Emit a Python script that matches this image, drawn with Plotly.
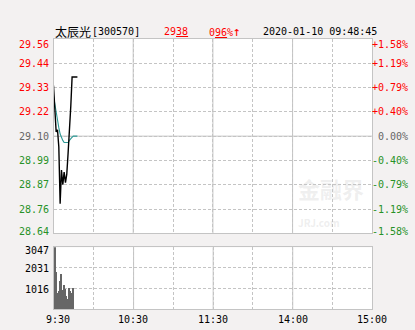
import plotly.graph_objects as go

# ---------------- data ----------------
stock_name = "太辰光"
stock_code = "[300570]"
last_price_txt = "29<u>38</u>"
change_txt = "0<u>96</u>%<span style='font-size:13px'>↑</span>"
timestamp = "2020-01-10 09:48:45"

times = ["09:30", "09:31", "09:32", "09:33", "09:34", "09:35", "09:36", "09:37",
         "09:38", "09:39", "09:40", "09:41", "09:42", "09:43", "09:44", "09:45",
         "09:46", "09:47", "09:48"]
price = [29.34, 29.22, 29.12, 29.13, 29.05, 28.78, 28.94, 28.87, 28.93, 28.88,
         28.92, 29.02, 29.12, 29.24, 29.38, 29.38, 29.38, 29.38, 29.38]
avg_price = [29.29, 29.25, 29.20, 29.17, 29.14, 29.11, 29.09, 29.08, 29.07, 29.07,
             29.07, 29.07, 29.08, 29.09, 29.095, 29.10, 29.10, 29.10, 29.10]
volume = [3047, 1830, 800, 880, 1380, 1710, 920, 1160, 960, 630,
          500, 1050, 880, 800, 1050, 0, 0, 0, 0]

prev_close = 29.10
max_pct = 0.0158
price_tick_labels = ["29.56", "29.44", "29.33", "29.22", "29.10", "28.99", "28.87", "28.76", "28.64"]
pct_tick_labels = ["+1.58%", "+1.19%", "+0.79%", "+0.40%", "0.00%", "-0.40%", "-0.79%", "-1.19%", "-1.58%"]
vol_max = 3047
vol_tick_labels = ["3047", "2031", "1016"]
x_tick_minutes = [0, 60, 120, 180, 240]
x_tick_labels = ["9:30", "10:30", "11:30", "14:00", "15:00"]

# ---------------- helpers ----------------
def to_minute(t):
    h, m = map(int, t.split(":"))
    v = h * 60 + m
    if v <= 11 * 60 + 30:
        return v - (9 * 60 + 30)
    return v - 13 * 60 + 120

xm = [to_minute(t) for t in times]

W, H = 415, 330
X0, X1 = 53.5 / W, 372.3 / W
MAIN = [1 - 233.3 / H, 1 - 39 / H]
VOL = [1 - 309.3 / H, 1 - 247.3 / H]

ymin = prev_close * (1 - max_pct)
ymax = prev_close * (1 + max_pct)
n = len(price_tick_labels)
levels = [ymax - i * (ymax - ymin) / (n - 1) for i in range(n)]

RED = "#ff0000"
GREEN = "#279127"
GRAY = "#666666"
GRID = "#c4c4c4"
MONO = "DejaVu Sans Mono, Liberation Mono, monospace"
CJK = "Noto Sans CJK SC"
FS = 10

fig = go.Figure()
fig.add_trace(go.Bar(x=xm, y=volume, marker=dict(color="#666666", line=dict(width=0)),
                     width=0.75, xaxis="x2", yaxis="y2", hoverinfo="skip"))
fig.add_trace(go.Scatter(x=xm, y=avg_price, mode="lines",
                         line=dict(color="#2e9a96", width=1.1), xaxis="x", yaxis="y",
                         hoverinfo="skip", cliponaxis=False))
fig.add_trace(go.Scatter(x=xm, y=price, mode="lines",
                         line=dict(color="#000000", width=1.4), xaxis="x", yaxis="y",
                         hoverinfo="skip", cliponaxis=False))

axis_common = dict(showline=True, mirror=True, linecolor=GRID, linewidth=1,
                   ticks="", showticklabels=False, zeroline=False,
                   gridcolor=GRID, griddash="3px,2px", gridwidth=1)

grid_minutes = list(range(0, 241, 30))
fig.update_layout(
    width=W, height=H, margin=dict(l=0, r=0, t=0, b=0),
    paper_bgcolor="#f3f1f1", plot_bgcolor="#ffffff", showlegend=False,
    bargap=0,
    xaxis=dict(domain=[X0, X1], range=[0, 240], tickvals=grid_minutes, anchor="y",
               **axis_common),
    yaxis=dict(domain=MAIN, range=[ymin, ymax], tickvals=levels[1:-1], anchor="x",
               **axis_common),
    xaxis2=dict(domain=[X0, X1], range=[-0.4, 240], tickvals=grid_minutes, anchor="y2",
                **axis_common),
    yaxis2=dict(domain=VOL, range=[0, vol_max], tickvals=[vol_max / 3, 2 * vol_max / 3],
                anchor="x2", **axis_common),
)

shapes = []
shapes.append(dict(type="line", xref="paper", yref="y", x0=X0, x1=X1,
                   y0=prev_close, y1=prev_close, line=dict(color=GRID, width=1),
                   layer="below"))
for m in x_tick_minutes[1:-1]:
    for xr, yr in (("x", "y"), ("x2", "y2")):
        y0, y1 = (ymin, ymax) if yr == "y" else (0, vol_max)
        shapes.append(dict(type="line", xref=xr, yref=yr, x0=m, x1=m, y0=y0, y1=y1,
                           line=dict(color=GRID, width=1), layer="below"))
fig.update_layout(shapes=shapes)

ann = []
for i, (lv, pl, cl) in enumerate(zip(levels, price_tick_labels, pct_tick_labels)):
    if i < (n - 1) // 2:
        col = RED
    elif i == (n - 1) // 2:
        col = GRAY
    else:
        col = GREEN
    ys = -6 if i == 0 else (2 if i == n - 1 else 0)
    ann.append(dict(x=50.5 / W, xref="paper", y=lv, yref="y", text=pl, showarrow=False,
                    xanchor="right", yanchor="middle", yshift=ys,
                    font=dict(family=MONO, size=FS, color=col)))
    ann.append(dict(x=409.5 / W, xref="paper", y=lv, yref="y", text=cl, showarrow=False,
                    xanchor="right", yanchor="middle", yshift=ys,
                    font=dict(family=MONO, size=FS, color=col)))
for i, vl in enumerate(vol_tick_labels):
    v = vol_max * (len(vol_tick_labels) - i) / len(vol_tick_labels)
    ys = -3 if i == 0 else -1
    ann.append(dict(x=51 / W, xref="paper", y=v, yref="y2", text=vl, showarrow=False,
                    xanchor="right", yanchor="middle", yshift=ys,
                    font=dict(family=MONO, size=FS, color="#000000")))
for m, tl in zip(x_tick_minutes, x_tick_labels):
    ann.append(dict(x=m, xref="x", y=1 - 319.5 / H, yref="paper", text=tl,
                    showarrow=False, xanchor="center", yanchor="middle",
                    xshift=4 if m == 0 else 0,
                    font=dict(family=MONO, size=FS, color="#000000")))
ty = 1 - 31.5 / H
ann.append(dict(x=53 / W, xref="paper", y=ty, yref="paper", text=stock_name, showarrow=False,
                xanchor="left", yanchor="middle", font=dict(family=CJK, size=12, color="#000")))
ann.append(dict(x=90 / W, xref="paper", y=ty, yref="paper", text=stock_code, showarrow=False,
                xanchor="left", yanchor="middle", font=dict(family=MONO, size=FS, color="#000")))
ann.append(dict(x=162 / W, xref="paper", y=ty, yref="paper", text=last_price_txt, showarrow=False,
                xanchor="left", yanchor="middle", font=dict(family=MONO, size=FS, color=RED)))
ann.append(dict(x=207 / W, xref="paper", y=ty, yref="paper", text=change_txt, showarrow=False,
                xanchor="left", yanchor="middle", font=dict(family=MONO, size=FS, color=RED)))
ann.append(dict(x=261 / W, xref="paper", y=ty, yref="paper", text=timestamp, showarrow=False,
                xanchor="left", yanchor="middle", font=dict(family=MONO, size=FS, color="#000")))
ann.append(dict(x=296 / W, xref="paper", y=1 - 201 / H, yref="paper",
                text="<b>金融界</b><br><span style='font-size:10px'><b>JRJ.com</b></span>",
                showarrow=False, xanchor="left", yanchor="middle", align="left",
                font=dict(family=CJK, size=22, color="rgba(200,200,200,0.3)")))
fig.update_layout(annotations=ann)

fig.write_html("out.html")
